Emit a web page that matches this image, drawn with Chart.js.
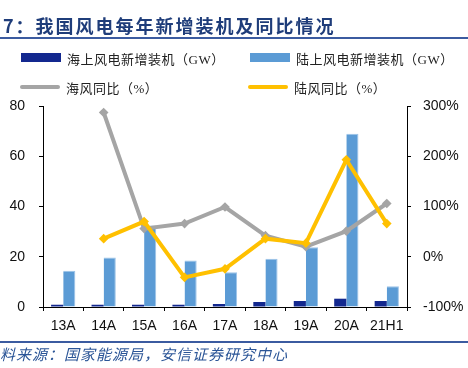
<!DOCTYPE html>
<html>
<head>
    <script src="https://cdn.jsdelivr.net/npm/chart.js"></script>
    <style>
        body { margin: 0; background: #fff; }
        .wrap { position: relative; width: 468px; height: 368px; overflow: hidden; }
        canvas { position: absolute; left: 0; top: 0; }
        .title {
            position: absolute; left: 3px; top: 12px;
            font-family: "Noto Sans CJK SC"; font-weight: 700; font-size: 18px;
            letter-spacing: 2px; color: #1f3d7a; white-space: nowrap;
        }
        .rule { position: absolute; left: 0; width: 468px; height: 2px; background: #3b5ba0; }
        .source {
            position: absolute; left: 0; top: 343px;
            font-family: "Noto Sans CJK SC"; font-style: italic; font-size: 15px;
            letter-spacing: 1px; color: #2b5597; white-space: nowrap;
        }
        .lg { position: absolute; font-family: "Liberation Serif", "Noto Sans CJK SC"; font-size: 13px; letter-spacing: 0.5px; color: #222; white-space: nowrap; }
        .sw { position: absolute; }
    </style>
</head>
<body>
<div class="wrap">
    <canvas id="windChart" width="468" height="368"></canvas>
    <div class="title">7：我国风电每年新增装机及同比情况</div>
    <div class="rule" style="top:37px"></div>
    <div id="legend"></div>
    <div class="rule" style="top:341px"></div>
    <div class="source">料来源：国家能源局，安信证券研究中心</div>
</div>

<script>
    const years = ['13A', '14A', '15A', '16A', '17A', '18A', '19A', '20A', '21H1'];
    const offshoreGW = [0.9, 0.9, 0.9, 0.9, 1.2, 2.0, 2.4, 3.3, 2.4];
    const onshoreGW = [14.4, 19.7, 32.4, 18.5, 13.8, 19.2, 23.8, 69.0, 8.3];
    const offshoreYoY = [null, 287, 56, 66, 99, 42, 20, 51, 106];
    const onshoreYoY = [null, 36, 70, -41, -24, 36, 27, 193, 66];
    const leftTicks = [0, 20, 40, 60, 80];
    const rightTicks = [-100, 0, 100, 200, 300];

    const names = ['海上风电新增装机（GW）', '陆上风电新增装机（GW）', '海风同比（%）', '陆风同比（%）'];
    const colors = ['#13288f', '#5b9bd5', '#a5a5a5', '#ffc000'];

    // legend laid out in two columns like the original
    const legendPos = [[21, 53, 'bar'], [250, 53, 'bar'], [20, 82, 'line'], [248, 82, 'line']];
    const legend = document.getElementById('legend');
    legendPos.forEach(function (p, i) {
        const sw = document.createElement('div');
        sw.className = 'sw';
        sw.style.left = p[0] + 'px';
        sw.style.width = '40px';
        sw.style.background = colors[i];
        if (p[2] === 'bar') {
            sw.style.top = p[1] + 'px';
            sw.style.height = '9px';
        } else {
            sw.style.top = (p[1] + 3) + 'px';
            sw.style.height = '4px';
            sw.style.borderRadius = '2px';
        }
        legend.appendChild(sw);
        const t = document.createElement('div');
        t.className = 'lg';
        t.textContent = names[i];
        t.style.left = (p[0] + 46) + 'px';
        t.style.top = (p[1] - 4) + 'px';
        legend.appendChild(t);
    });

    const tickFont = { family: 'Liberation Sans', size: 14 };

    new Chart(document.getElementById('windChart'), {
        type: 'bar',
        data: {
            labels: years,
            datasets: [
                {
                    label: names[3], type: 'line', data: onshoreYoY, yAxisID: 'y1',
                    borderColor: colors[3], backgroundColor: colors[3], borderWidth: 4,
                    pointStyle: 'rectRot', pointRadius: 2, tension: 0, order: 1
                },
                {
                    label: names[2], type: 'line', data: offshoreYoY, yAxisID: 'y1',
                    borderColor: colors[2], backgroundColor: colors[2], borderWidth: 4,
                    pointStyle: 'rectRot', pointRadius: 2, tension: 0, order: 2
                },
                {
                    label: names[0], data: offshoreGW, yAxisID: 'y',
                    backgroundColor: colors[0], order: 3,
                    barPercentage: 1, categoryPercentage: 0.6
                },
                {
                    label: names[1], data: onshoreGW, yAxisID: 'y',
                    backgroundColor: colors[1], borderColor: '#9cc3e8', borderWidth: { top: 1, right: 1 },
                    order: 4, barPercentage: 1, categoryPercentage: 0.6
                }
            ]
        },
        options: {
            responsive: false,
            animation: false,
            layout: { padding: { top: 106, bottom: 33, left: 0, right: 0 } },
            plugins: { legend: { display: false }, tooltip: { enabled: false } },
            scales: {
                x: {
                    grid: { drawOnChartArea: false, color: '#000', tickLength: 4 },
                    border: { color: '#000', width: 1 },
                    ticks: { font: tickFont, color: '#111', padding: 7, maxRotation: 0 },
                    afterFit: function (s) { s.height = 28; }
                },
                y: {
                    position: 'left', min: 0, max: 80,
                    afterBuildTicks: function (s) { s.ticks = leftTicks.map(v => ({ value: v })); },
                    grid: { drawOnChartArea: false, color: '#000', tickLength: 4 },
                    border: { color: '#000', width: 1 },
                    ticks: { font: tickFont, color: '#111', padding: 14 },
                    afterFit: function (s) { s.width = 43; }
                },
                y1: {
                    position: 'right', min: -100, max: 300,
                    afterBuildTicks: function (s) { s.ticks = rightTicks.map(v => ({ value: v })); },
                    grid: { drawOnChartArea: false, color: '#000', tickLength: 4 },
                    border: { color: '#000', width: 1 },
                    ticks: { font: tickFont, color: '#111', padding: 12, callback: v => v + '%' },
                    afterFit: function (s) { s.width = 61; }
                }
            }
        }
    });
</script>
</body>
</html>
